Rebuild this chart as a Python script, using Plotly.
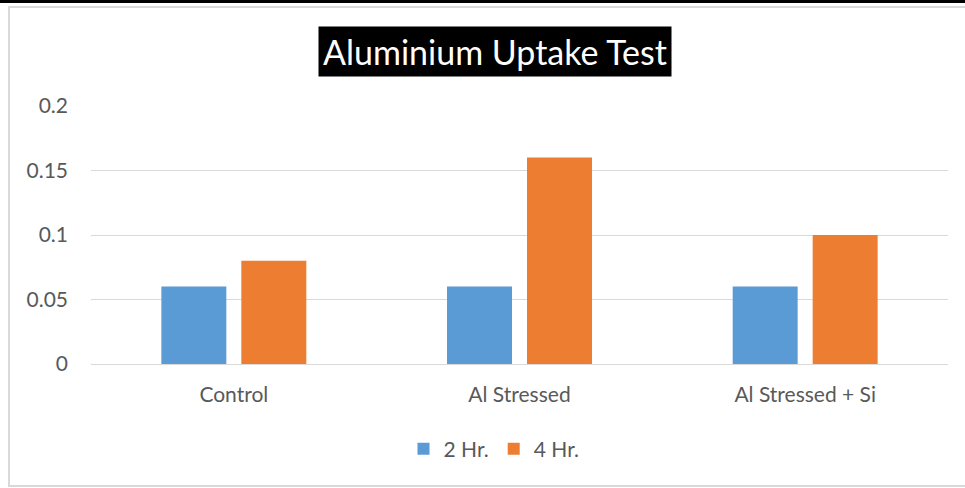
import plotly.graph_objects as go

categories = ["Control", "Al Stressed", "Al Stressed + Si"]
hr2 = [0.06, 0.06, 0.06]
hr4 = [0.08, 0.16, 0.10]
series_names = ["2 Hr.", "4 Hr."]
colors = ["#5B9BD5", "#ED7D31"]
title_text = "Aluminium Uptake Test"

W, H = 965, 488
ml, mr, mt, mb = 91, 17, 106, 124
pw = W - ml - mr
ph = H - mt - mb

def px_x(x):
    return (x - ml) / pw

def px_y(y):
    return (H - mb - y) / ph

FONT = "Lato, Open Sans, sans-serif"
fig = go.Figure()
for name, vals, c in zip(series_names, [hr2, hr4], colors):
    fig.add_trace(go.Bar(x=categories, y=vals, name=name, marker=dict(color=c, line=dict(width=0))))

fig.update_layout(
    width=W, height=H,
    margin=dict(l=ml, r=mr, t=mt, b=mb, autoexpand=False),
    paper_bgcolor="white", plot_bgcolor="white",
    barmode="group", bargap=0.44, bargroupgap=0.1875,
    font=dict(family=FONT, color="#595959", size=21),
    xaxis=dict(showline=False, ticks="", tickfont=dict(size=21, color="#595959"),
               ticklabelstandoff=16, automargin=False),
    yaxis=dict(range=[0, 0.2], dtick=0.05, gridcolor="#D9D9D9", gridwidth=1,
               zeroline=True, zerolinecolor="#D9D9D9", zerolinewidth=1,
               tickfont=dict(size=21, color="#595959"), ticklabelstandoff=22,
               showline=False, ticks="", automargin=False),
    legend=dict(orientation="h", x=px_x(494), xanchor="center", y=px_y(449), yanchor="middle",
                font=dict(size=21, color="#595959"), traceorder="normal",
                itemwidth=30, entrywidth=0),
    showlegend=True,
)

fig.add_annotation(
    text=title_text, xref="paper", yref="paper",
    x=px_x(495), y=px_y(51), xanchor="center", yanchor="middle",
    showarrow=False, bgcolor="black",
    font=dict(family=FONT, size=34, color="white"),
    borderpad=4,
)

# outer chart border and top line
fig.add_shape(type="rect", xref="paper", yref="paper",
              x0=px_x(9), x1=px_x(1000), y0=px_y(486), y1=px_y(7),
              line=dict(color="#D9D9D9", width=2), fillcolor="rgba(0,0,0,0)", layer="below")
fig.add_shape(type="rect", xref="paper", yref="paper",
              x0=px_x(-5), x1=px_x(1000), y0=px_y(3), y1=px_y(-5),
              line=dict(width=0), fillcolor="black")

fig.write_html("out.html", config={"displayModeBar": False},
               post_script="document.body.style.margin='0';")
